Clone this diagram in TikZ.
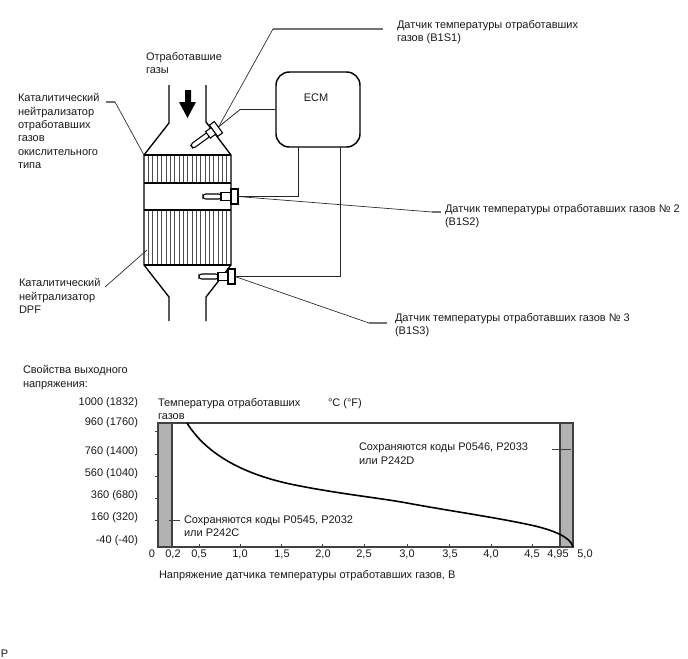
\documentclass[tikz,border=0pt]{standalone}
\usepackage{fontspec}
\setmainfont{Liberation Sans}
\definecolor{bandgray}{gray}{0.7}
\definecolor{framegray}{gray}{0.25}
\tikzset{
  lab/.style={font=\fontsize{8.25pt}{10pt}\selectfont, inner sep=0pt, outer sep=0pt, align=left, anchor=north west, text=black!90},
  axlab/.style={font=\fontsize{8.25pt}{10pt}\selectfont, inner sep=0pt, outer sep=0pt, text=black!90},
  wire/.style={line width=0.6pt, draw=black!85},
  leader/.style={line width=0.5pt, draw=black!85},
  stub/.style={line width=0.9pt, draw=black!55},
  shell/.style={line width=1pt, draw=black},
  fin/.style={line width=0.35pt, draw=black!70},
  probe/.style={line width=0.8pt, draw=black, fill=white},
  curveline/.style={line width=1.2pt, draw=black}
}
\begin{document}
\begin{tikzpicture}[x=0.75pt,y=-0.75pt]
\useasboundingbox (0,0) rectangle (688,658);

% catalyst fins
\foreach \fn in {1,...,19} {
  \pgfmathsetmacro{\fx}{144+4.35*\fn}
  \draw[fin] (\fx,155) -- (\fx,183);
  \draw[fin] (\fx,210) -- (\fx,265);
}

% converter housing
\draw[shell] (169,85) -- (169,123) -- (144,155) -- (144,265) -- (169,297) -- (169,321);
\draw[shell] (206,85) -- (206,122) -- (231,155) -- (231,265) -- (206,297) -- (206,321);
\draw[shell] (144,155) -- (231,155);
\draw[shell] (144,183) -- (231,183);
\draw[shell] (144,210) -- (231,210);
\draw[shell] (144,265) -- (231,265);

% gas flow arrow
\fill[black] (185,90) -- (191,90) -- (191,102) -- (196,102) -- (187.5,118) -- (179,102) -- (185,102) -- cycle;

% control unit
\node[draw=black, line width=1.1pt, rounded corners=10pt, minimum width=84pt*0.75, minimum height=75pt*0.75, inner sep=0pt] (ecm) at (318,109.5) {};
\node[axlab] (ecmtxt) at (316,97.5) {ECM};

% wiring to the control unit, leaders to the labels
\coordinate (s1) at (218.5,127);
\coordinate (s2) at (238,196.5);
\coordinate (s3) at (235,276.5);
\coordinate (w1) at (240,109.5);
\coordinate (w2a) at (298,147);
\coordinate (w2b) at (298,196.5);
\coordinate (w3a) at (340,147);
\coordinate (w3b) at (340,276.5);
\draw[wire] (s1) -- (w1) -- (ecm.west |- w1);
\draw[wire] (w2a) -- (w2b) -- (s2);
\draw[wire] (w3a) -- (w3b) -- (s3);

\coordinate (l1a) at (273,29);
\coordinate (l1b) at (383,29);
\coordinate (l2a) at (432,212);
\coordinate (l2b) at (441,212);
\coordinate (l3a) at (369,323);
\coordinate (l3b) at (387,323);
\coordinate (l4a) at (106,102);
\coordinate (l4b) at (115,102);
\coordinate (l4c) at (144,155);
\coordinate (l5a) at (105,287);
\coordinate (l5c) at (147,250);
\draw[leader] (s1) -- (l1a);
\draw[stub] (l1a) -- (l1b);
\draw[leader] (s2) -- (l2a);
\draw[stub] (l2a) -- (l2b);
\draw[leader] (s3) -- (l3a);
\draw[stub] (l3a) -- (l3b);
\draw[stub] (l4a) -- (l4b);
\draw[leader] (l4b) -- (l4c);
\draw[leader] (l5a) -- (l5c);

% exhaust temperature sensors
\begin{scope}[shift={(216,129)},rotate=36]
  \draw[probe,rounded corners=2pt] (-30,-2.5) -- (-9,-2.5) -- (-9,2.5) -- (-30,2.5) -- cycle;
  \draw[probe] (-10,-4) rectangle (-3,4);
  \draw[probe] (-3,-7) rectangle (3,7);
\end{scope}
\begin{scope}[shift={(234.5,196.5)}]
  \draw[probe,rounded corners=2pt] (-31.5,-2.5) -- (-13,-2.5) -- (-13,2.5) -- (-31.5,2.5) -- cycle;
  \draw[probe] (-13.5,-4) rectangle (-3.5,4);
  \draw[probe] (-3.5,-7.5) rectangle (3.5,7.5);
\end{scope}
\begin{scope}[shift={(231.5,276.5)}]
  \draw[probe,rounded corners=2pt] (-32.5,-2.5) -- (-13,-2.5) -- (-13,2.5) -- (-32.5,2.5) -- cycle;
  \draw[probe] (-13.5,-4) rectangle (-3.5,4);
  \draw[probe] (-3.5,-7.5) rectangle (3.5,7.5);
\end{scope}

% diagram labels
\node[lab] (t1) at (146,52.5) {Отработавшие\\газы};
\node[lab] (t2) at (18,93.5) {Каталитический\\нейтрализатор\\отработавших\\газов\\окислительного\\типа};
\node[lab] (t3) at (19,278.5) {Каталитический\\нейтрализатор\\DPF};
\node[lab] (t4) at (397,20.5) {Датчик температуры отработавших\\газов (B1S1)};
\node[lab] (t5) at (445,204.5) {Датчик температуры отработавших газов № 2\\(B1S2)};
\node[lab] (t6) at (395,313.5) {Датчик температуры отработавших газов № 3\\(B1S3)};

% output characteristic chart
\node[lab] (t7) at (23,365.5) {Свойства выходного\\напряжения:};
\node[lab] (t8) at (158,398.5) {Температура отработавших\\газов};
\node[axlab,anchor=west] (t9) at (328,403.5) {°C (°F)};

\fill[bandgray] (158,423) rectangle (172,547);
\fill[bandgray] (560,423) rectangle (573,547);
\draw[framegray,line width=1.2pt] (172,423) -- (172,547);
\draw[framegray,line width=1.2pt] (560,423) -- (560,547);
\draw[framegray,line width=0.9pt] (158,423) rectangle (573,547);

% axis ticks
\foreach \ty in {431,454,476,498,520} \draw[framegray,line width=0.6pt] (154.5,\ty) -- (158,\ty);
\foreach \tx in {199,240,281,322,364,407,449,491,532} \draw[framegray,line width=0.6pt] (\tx,547) -- (\tx,543.5);

% sensor voltage curve
\draw[curveline] (187,423) .. controls (205,452) and (240,474) .. (295,485)
  .. controls (340,494) and (380,498) .. (407,503)
  .. controls (450,511) and (500,518) .. (535,526)
  .. controls (552,530) and (571,537) .. (573,547);

% stored code callouts
\coordinate (c1a) at (169,520);
\coordinate (c1b) at (180,520);
\coordinate (c2a) at (552,449);
\coordinate (c2b) at (571,449);
\draw[framegray,line width=0.7pt] (c1a) -- (c1b);
\draw[framegray,line width=0.7pt] (c2a) -- (c2b);
\node[lab] (t10) at (184,515.5) {Сохраняются коды P0545, P2032\\или P242C};
\node[lab] (t11) at (359,443) {Сохраняются коды P0546, P2033\\или P242D};

% axis values
\foreach \yy/\yl in {403/1000 (1832),423/960 (1760),452/760 (1400),474/560 (1040),496/360 (680),518/160 (320),541/-40 (-40)}
  \node[axlab,anchor=east] at (138,\yy) {\yl};
\foreach \xx/\xl in {152/0,173/{0,2},199/{0,5},240/{1,0},282/{1,5},323/{2,0},364/{2,5},407/{3,0},450/{3,5},491/{4,0},532/{4,5},558/{4,95},585/{5,0}}
  \node[axlab] at (\xx,554) {\xl};

\node[lab] (t12) at (159,570.5) {Напряжение датчика температуры отработавших газов, В};
\node[lab] (t13) at (1,649.5) {P};
\end{tikzpicture}
\end{document}
